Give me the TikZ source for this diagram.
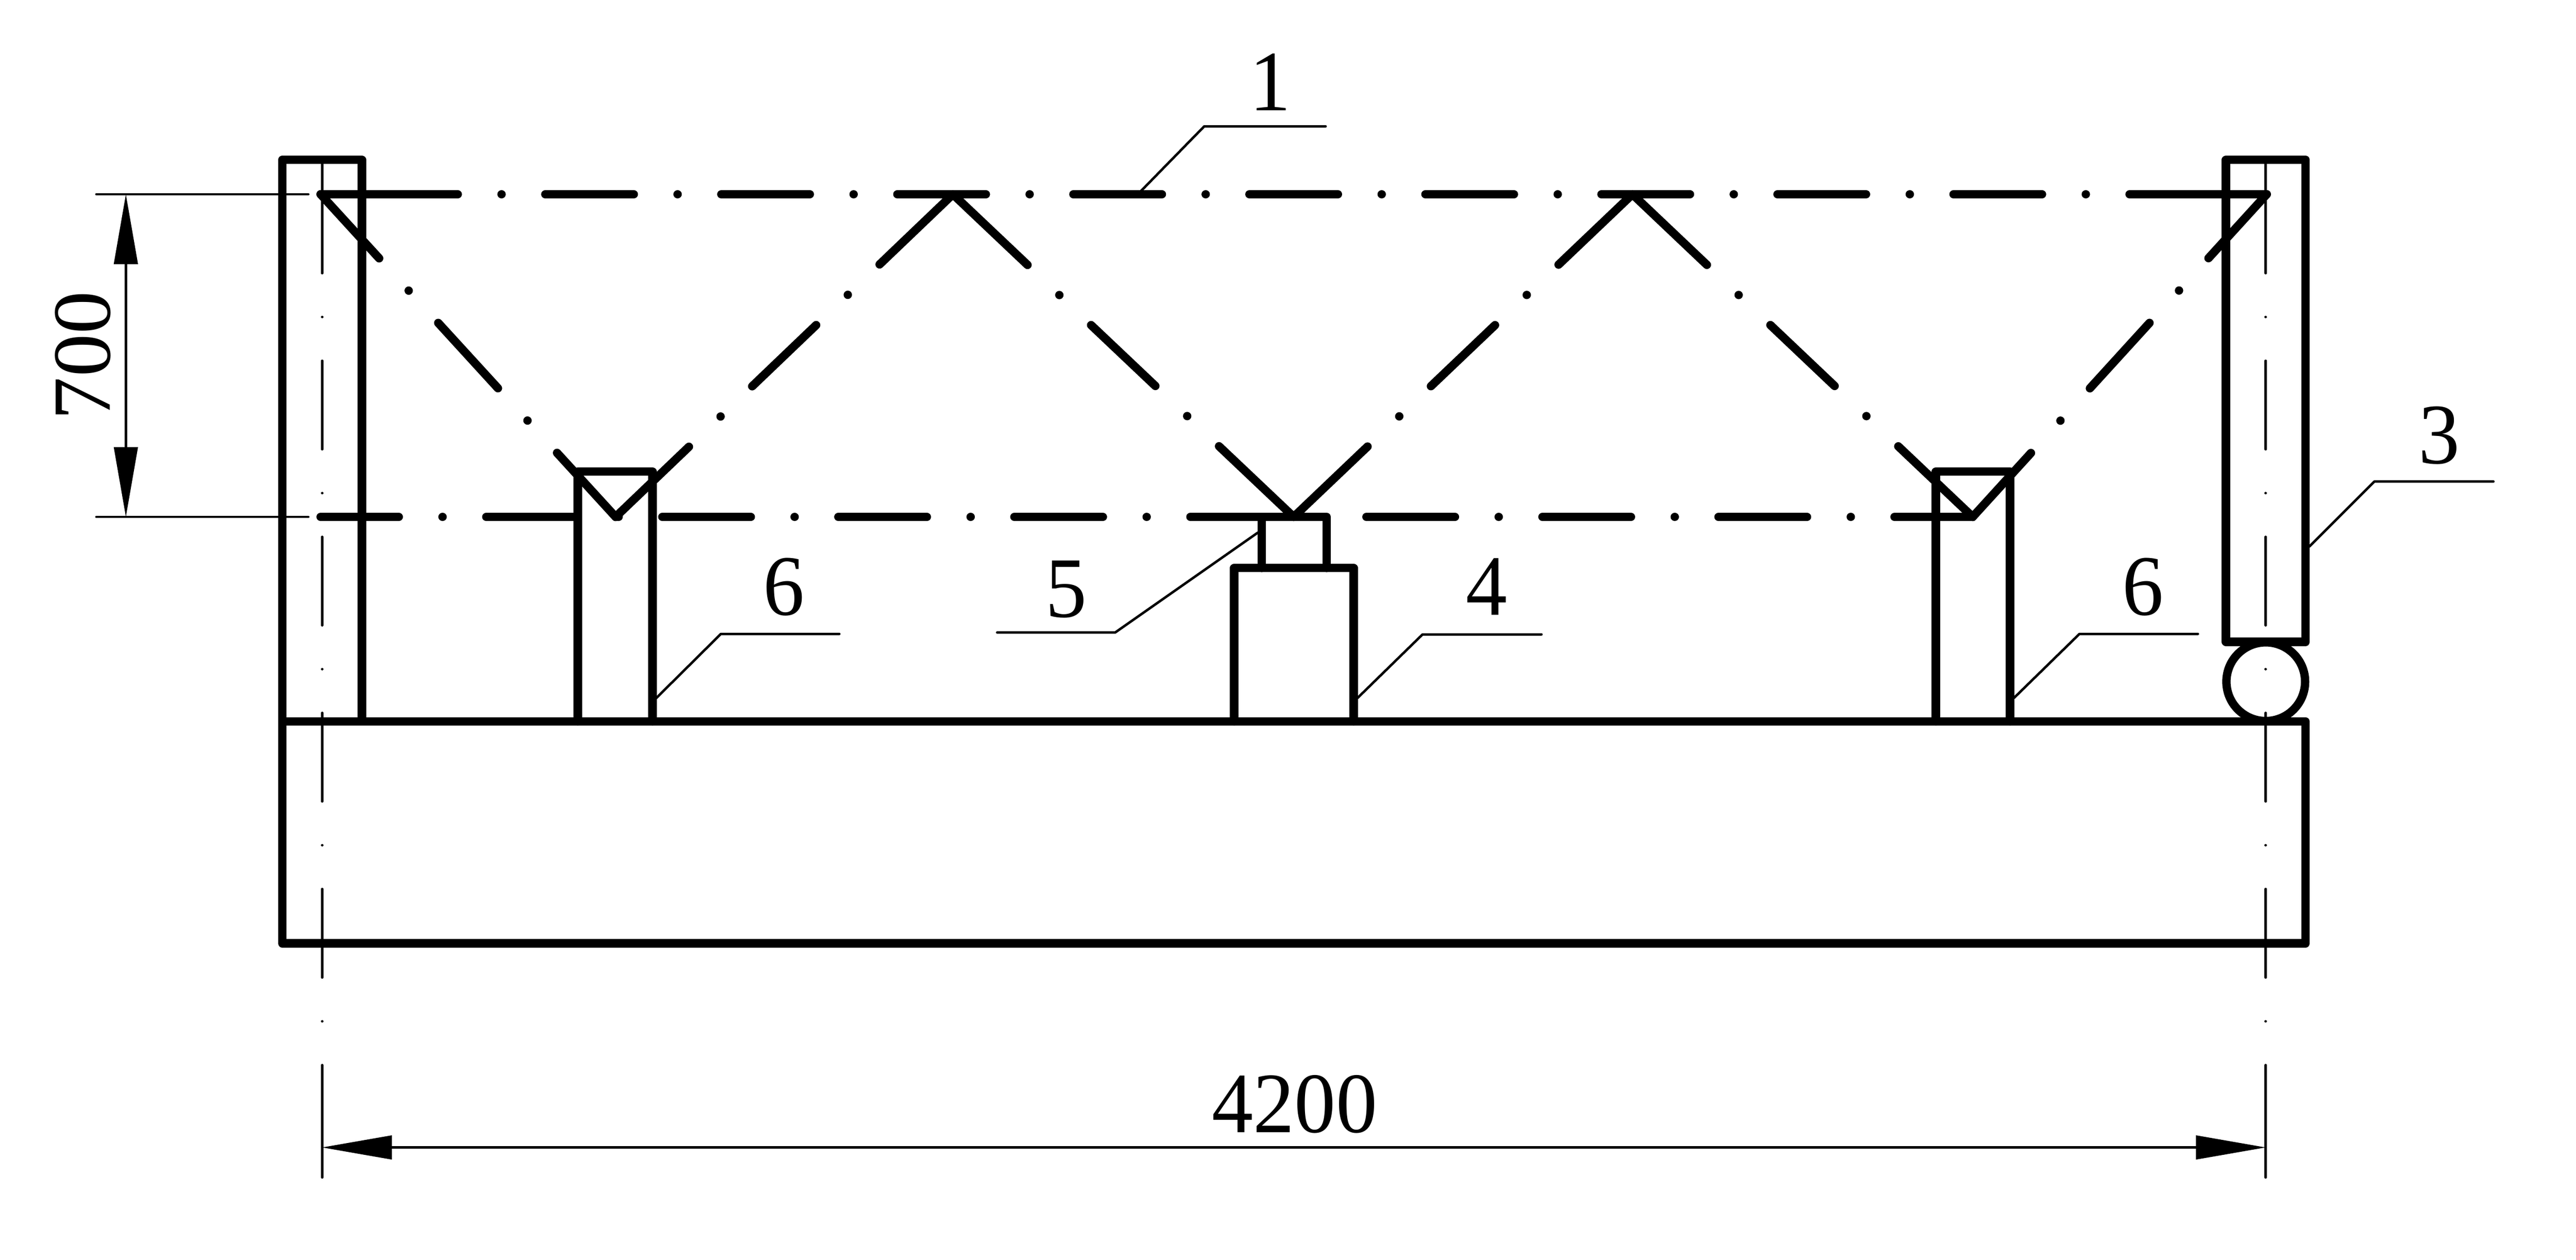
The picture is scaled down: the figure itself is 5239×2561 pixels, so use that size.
\documentclass[tikz,border=0pt]{standalone}
\usepackage{fontspec}
\setmainfont{Liberation Serif}
\usetikzlibrary{calc,arrows.meta}
\def\dD{180}\def\dG{89}\def\dP{358}
\newcommand\dcl[4]{%
  \path let \p1=($(#3)-(#2)$), \n1={veclen(\x1,\y1)} in \pgfextra{\xdef\dclL{\n1}};
  \pgfmathsetmacro\dclE{(\dclL+\dD-\dP*#4)/2}%
  \draw[#1] (#2) -- ($(#2)!\dclE pt!(#3)$);
  \draw[#1] (#3) -- ($(#3)!\dclE pt!(#2)$);
  \foreach \i in {1,...,#4}{%
    \pgfmathsetmacro\sa{\dclE+\dG+(\i-1)*\dP}%
    \pgfmathsetmacro\sb{\sa+0.1}%
    \pgfmathsetmacro\sc{\sa+\dG}%
    \pgfmathsetmacro\sd{\sc+\dD}%
    \draw[#1] ($(#2)!\sa pt!(#3)$) -- ($(#2)!\sb pt!(#3)$);
    \ifnum\i<#4 \draw[#1] ($(#2)!\sc pt!(#3)$) -- ($(#2)!\sd pt!(#3)$);\fi
  }%
}
\tikzset{
  thick line/.style={line width=17pt,line cap=round,line join=round},
  thin line/.style={line width=5pt,line cap=round,line join=round},
  dim line/.style={line width=5pt,{Triangle[length=142pt,width=48pt]}-{Triangle[length=142pt,width=48pt]}},
  numlabel/.style={font=\fontsize{175}{175}\selectfont,inner sep=0pt,xscale=0.96,yscale=1.0}
}
\begin{document}
\begin{tikzpicture}[x=1pt,y=-1pt]
\useasboundingbox (0,0) rectangle (5239,2561);
\fill[white] (0,0) rectangle (5239,2561);
% key points
\coordinate (A) at (652,395);
\coordinate (B) at (1252,1051);
\coordinate (T1) at (1938,395);
\coordinate (C) at (2631,1051);
\coordinate (T2) at (3320,395);
\coordinate (R) at (4012,1051);
\coordinate (E) at (4610,395);
\coordinate (L0) at (652,1051);
\coordinate (CLa) at (655,327);
\coordinate (CLb) at (655,2394);
\coordinate (CRa) at (4608,327);
\coordinate (CRb) at (4608,2394);
% structure
\draw[thick line] (574,325) rectangle (736,1467);
\draw[thick line] (4527,325) rectangle (4689,1305);
\draw[thick line] (574,1467) rectangle (4689,1918);
\draw[thick line] (4608,1386) circle (80);
\draw[thick line] (1175,1467) -- (1175,959) -- (1327,959) -- (1327,1467);
\draw[thick line] (3937,1467) -- (3937,959) -- (4088,959) -- (4088,1467);
\draw[thick line] (2510,1467) -- (2510,1155) -- (2753,1155) -- (2753,1467);
\draw[thick line] (2566,1155) -- (2566,1051) -- (2698,1051) -- (2698,1155);
% optical path
\dcl{thick line}{A}{E}{10}
\dcl{thick line}{L0}{R}{9}
\dcl{thick line}{A}{B}{2}
\dcl{thick line}{B}{T1}{2}
\dcl{thick line}{T1}{C}{2}
\dcl{thick line}{C}{T2}{2}
\dcl{thick line}{T2}{R}{2}
\dcl{thick line}{R}{E}{2}
% centre lines
\dcl{thin line}{CLa}{CLb}{5}
\dcl{thin line}{CRa}{CRb}{5}
% dimensions
\coordinate (d1a) at (196,395); \coordinate (d1b) at (627,395);
\coordinate (d2a) at (196,1051); \coordinate (d2b) at (627,1051);
\draw[thin line] (d1a) -- (d1b);
\draw[thin line] (d2a) -- (d2b);
\coordinate (v1) at (256,395); \coordinate (v2) at (256,1051);
\draw[dim line] (v1) -- (v2);
\coordinate (h1) at (655,2333); \coordinate (h2) at (4608,2333);
\draw[dim line] (h1) -- (h2);
\node[numlabel,rotate=90] (dimv) at (169,723) {700};
\node[numlabel] (dimh) at (2633,2245) {4200};
% leaders and labels
\coordinate (l1a) at (2315,394); \coordinate (l1b) at (2449,257); \coordinate (l1c) at (2696,257);
\draw[thin line] (l1a) -- (l1b) -- (l1c);
\node[numlabel] (n1) at (2583,167) {1};
\coordinate (l3a) at (4697,1111); \coordinate (l3b) at (4829,979); \coordinate (l3c) at (5071,979);
\draw[thin line] (l3a) -- (l3b) -- (l3c);
\node[numlabel] (n3) at (4961,885) {3};
\coordinate (l4a) at (2760,1420); \coordinate (l4b) at (2893,1290); \coordinate (l4c) at (3135,1290);
\draw[thin line] (l4a) -- (l4b) -- (l4c);
\node[numlabel] (n4) at (3023,1193) {4};
\coordinate (l5a) at (2558,1083); \coordinate (l5b) at (2268,1286); \coordinate (l5c) at (2028,1286);
\draw[thin line] (l5a) -- (l5b) -- (l5c);
\node[numlabel] (n5) at (2168,1198) {5};
\coordinate (l6a) at (1334,1420); \coordinate (l6b) at (1466,1289); \coordinate (l6c) at (1707,1289);
\draw[thin line] (l6a) -- (l6b) -- (l6c);
\node[numlabel] (n6a) at (1594,1193) {6};
\coordinate (l7a) at (4096,1419); \coordinate (l7b) at (4229,1289); \coordinate (l7c) at (4470,1289);
\draw[thin line] (l7a) -- (l7b) -- (l7c);
\node[numlabel] (n6b) at (4358,1193) {6};
\end{tikzpicture}
\end{document}
